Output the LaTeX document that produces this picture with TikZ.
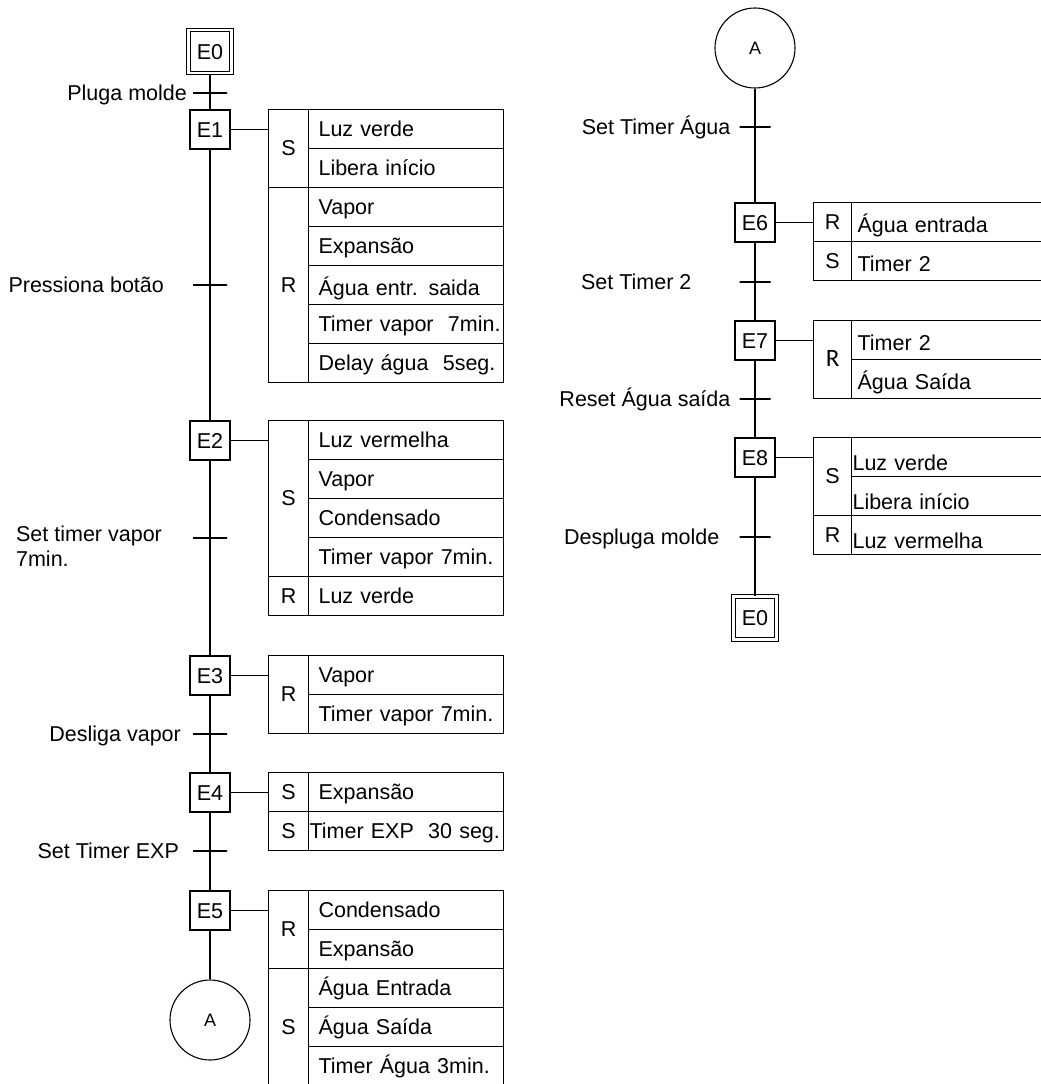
\documentclass[tikz,border=0pt]{standalone}
\usepackage{fontspec}
\setmainfont{Liberation Sans}
\newfontfamily\calibri{Carlito}
\usetikzlibrary{positioning}

\begin{document}
\begin{tikzpicture}[x=1pt, y=-1pt, node distance=39pt, line width=1.1pt,
  font=\fontsize{21.5}{25}\selectfont,
  stepbox/.style={rectangle, draw, minimum width=40pt, minimum height=39pt, inner sep=0pt, text height=15pt, text depth=0pt},
  initstep/.style={stepbox, double, double distance=2.2pt, minimum width=43pt, minimum height=43pt},
  qual/.style={rectangle, draw, minimum width=40pt, inner sep=0pt, outer sep=0pt, text height=15pt, text depth=0pt},
  act/.style={rectangle, draw, minimum height=39pt, text width=175pt, inner xsep=10pt, inner ysep=0pt, outer sep=0pt, align=left, text height=15pt, text depth=0pt},
  ract/.style={act, text width=198pt, inner xsep=6pt, text height=21pt},
  low/.style={text height=28pt, inner xsep=1pt, text width=208pt},
  tbar/.style={rectangle, draw, minimum width=34pt, minimum height=0pt, inner sep=0pt},
  cond/.style={inner sep=0pt, text height=15pt, text depth=0pt},
  macro/.style={circle, draw, minimum size=80pt, inner sep=0pt, font=\fontsize{18}{20}\selectfont}
]
\useasboundingbox (0,0) rectangle (1041,1084);

% left sequence
\node (e0) [initstep] at (210,51.5) {E0};
\node (t1) [tbar] at (210,93) {};
\node (c1) [cond, left=5pt of t1] {Pluga molde};

\node (e1) [stepbox] at (210,129.5) {E1};
\node (e1s) [qual, minimum height=78pt, anchor=north west] at ([xshift=38pt]e1.north east) {S};
\node (e1a) [act, anchor=north west] at (e1s.north east) {Luz verde};
\node (e1b) [act, below of=e1a] {Libera início};
\node (e1r) [qual, minimum height=195pt, below=0pt of e1s] {R};
\node (e1c) [act, below of=e1b] {Vapor};
\node (e1d) [act, below of=e1c] {Expansão};
\node (e1e) [act, below of=e1d, text height=22pt] {Água entr. saida};
\node (e1f) [act, below of=e1e] {\mbox{Timer vapor~ 7min.}};
\node (e1g) [act, below of=e1f] {\mbox{Delay água~ 5seg.}};
\node (t2) [tbar] at (210,285) {};
\node (c2) [cond, left=28pt of t2] {Pressiona botão};

\node (e2) [stepbox] at (210,440.5) {E2};
\node (e2s) [qual, minimum height=156pt, anchor=north west] at ([xshift=38pt]e2.north east) {S};
\node (e2a) [act, anchor=north west] at (e2s.north east) {Luz vermelha};
\node (e2b) [act, below of=e2a] {Vapor};
\node (e2c) [act, below of=e2b] {Condensado};
\node (e2d) [act, below of=e2c] {\mbox{Timer vapor 7min.}};
\node (e2r) [qual, minimum height=39pt, below=0pt of e2s] {R};
\node (e2e) [act, below of=e2d] {Luz verde};
\node (t3) [tbar] at (210,538) {};
\node (c3) [inner sep=0pt, align=left, left=30pt of t3, yshift=-8pt] {Set timer vapor\\7min.};

\node (e3) [stepbox] at (210,675.5) {E3};
\node (e3r) [qual, minimum height=78pt, anchor=north west] at ([xshift=38pt]e3.north east) {R};
\node (e3a) [act, anchor=north west] at (e3r.north east) {Vapor};
\node (e3b) [act, below of=e3a] {\mbox{Timer vapor 7min.}};
\node (t4) [tbar] at (210,734) {};
\node (c4) [cond, left=11pt of t4] {Desliga vapor};

\node (e4) [stepbox] at (210,792.5) {E4};
\node (e4s) [qual, minimum height=39pt, anchor=north west] at ([xshift=38pt]e4.north east) {S};
\node (e4a) [act, anchor=north west] at (e4s.north east) {Expansão};
\node (e4t) [qual, minimum height=39pt, below=0pt of e4s] {S};
\node (e4b) [act, below of=e4a, inner xsep=1pt, text width=193pt] {\mbox{Timer EXP~ 30 seg.}};
\node (t5) [tbar] at (210,851) {};
\node (c5) [cond, left=13pt of t5] {Set Timer EXP};

\node (e5) [stepbox] at (210,910.5) {E5};
\node (e5r) [qual, minimum height=78pt, anchor=north west] at ([xshift=38pt]e5.north east) {R};
\node (e5a) [act, anchor=north west] at (e5r.north east) {Condensado};
\node (e5b) [act, below of=e5a] {Expansão};
\node (e5s) [qual, minimum height=117pt, below=0pt of e5r] {S};
\node (e5c) [act, below of=e5b] {Água Entrada};
\node (e5d) [act, below of=e5c] {Água Saída};
\node (e5e) [act, below of=e5d] {\mbox{Timer Água 3min.}};
\node (al) [macro] at (210,1020) {A};

\draw (e0) -- (e1);
\draw (e1) -- (e2);
\draw (e2) -- (e3);
\draw (e3) -- (e4);
\draw (e4) -- (e5);
\draw (e5) -- (al);
\draw (e1.east) -- (e1.east -| e1s.west);
\draw (e2.east) -- (e2.east -| e2s.west);
\draw (e3.east) -- (e3.east -| e3r.west);
\draw (e4.east) -- (e4.east -| e4s.west);
\draw (e5.east) -- (e5.east -| e5r.west);

% right sequence
\node (ar) [macro] at (755,48) {A};
\node (t6) [tbar, minimum width=31pt] at (755,127) {};
\node (c6) [cond, left=8pt of t6] {Set Timer Água};

\node (e6) [stepbox] at (755,222.5) {E6};
\node (e6r) [qual, minimum width=38pt, minimum height=39pt, anchor=north west] at ([xshift=38pt]e6.north east) {R};
\node (e6a) [ract, anchor=north west] at (e6r.north east) {Água entrada};
\node (e6s) [qual, minimum width=38pt, minimum height=39pt, below=0pt of e6r] {S};
\node (e6b) [ract, below of=e6a] {Timer 2};
\node (t7) [tbar, minimum width=31pt] at (755,282) {};
\node (c7) [cond, left=47pt of t7] {Set Timer 2};

\node (e7) [stepbox] at (755,340.5) {E7};
\node (e7r) [qual, minimum width=38pt, minimum height=78pt, anchor=north west, font=\calibri\fontsize{25}{28}\selectfont] at ([xshift=38pt]e7.north east) {R};
\node (e7a) [ract, anchor=north west] at (e7r.north east) {Timer 2};
\node (e7b) [ract, below of=e7a] {Água Saída};
\node (t8) [tbar, minimum width=31pt] at (755,399) {};
\node (c8) [cond, left=8pt of t8] {Reset Água saída};

\node (e8) [stepbox] at (755,457.5) {E8};
\node (e8s) [qual, minimum width=38pt, minimum height=78pt, anchor=north west] at ([xshift=38pt]e8.north east) {S};
\node (e8a) [ract, low, anchor=north west] at (e8s.north east) {Luz verde};
\node (e8b) [ract, low, below of=e8a] {Libera início};
\node (e8r) [qual, minimum width=38pt, minimum height=39pt, below=0pt of e8s] {R};
\node (e8c) [ract, low, below of=e8b] {Luz vermelha};
\node (t9) [tbar, minimum width=31pt] at (755,537) {};
\node (c9) [cond, left=19pt of t9] {Despluga molde};

\node (e0b) [initstep] at (755,618) {E0};

\draw (ar) -- (e6);
\draw (e6) -- (e7);
\draw (e7) -- (e8);
\draw (e8) -- (e0b);
\draw (e6.east) -- (e6.east -| e6r.west);
\draw (e7.east) -- (e7.east -| e7r.west);
\draw (e8.east) -- (e8.east -| e8s.west);

\end{tikzpicture}
\end{document}
